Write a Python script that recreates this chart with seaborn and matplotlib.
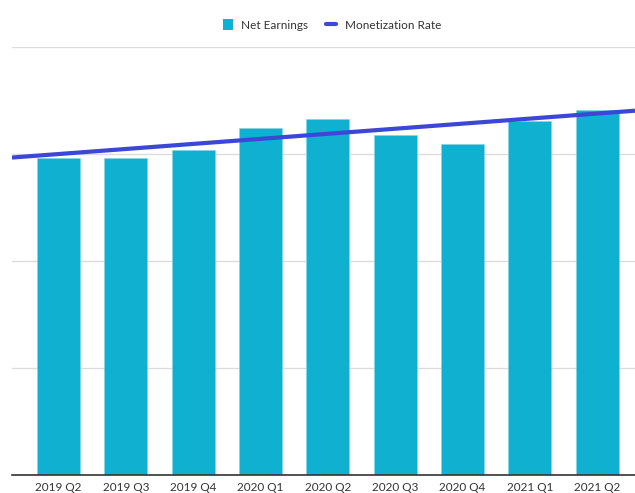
import matplotlib
matplotlib.use("Agg")
import matplotlib.pyplot as plt
from matplotlib.patches import Patch
from matplotlib.lines import Line2D
import numpy as np
import pandas as pd
import seaborn as sns

# Quarterly figures (one grid step = one unit)
quarters = ["2019 Q2", "2019 Q3", "2019 Q4", "2020 Q1", "2020 Q2",
            "2020 Q3", "2020 Q4", "2021 Q1", "2021 Q2"]
net_earnings = [2.96, 2.96, 3.04, 3.24, 3.33, 3.18, 3.09, 3.31, 3.41]
monetization_rate = [3.00, 3.05, 3.09, 3.14, 3.19, 3.24, 3.28, 3.33, 3.38]
y_ticks = [0, 1, 2, 3, 4]

bar_color = "#10B1D0"
line_color = "#3C46D8"
text_color = "#333333"

sns.set_theme(style="white")
plt.rcParams["font.family"] = ["Lato", "DejaVu Sans"]

df = pd.DataFrame({"quarter": quarters,
                   "net": net_earnings,
                   "rate": monetization_rate,
                   "pos": np.arange(len(quarters))})

fig = plt.figure(figsize=(6.35, 4.93), dpi=100)
ax = fig.add_axes([12 / 635, 18 / 493, 623 / 635, 428 / 493])

sns.barplot(data=df, x="quarter", y="net", color=bar_color, width=0.64,
            saturation=1, edgecolor="#7fd6e6", linewidth=0.4, ax=ax, zorder=2)

xlim = (-0.69, 8.56)
ax.set_xlim(*xlim)
# straight trend line spanning the full axis width
sns.regplot(data=df, x="pos", y="rate", scatter=False, ci=None, truncate=False,
            color=line_color, line_kws={"linewidth": 3.0, "solid_capstyle": "butt",
                                        "zorder": 3}, ax=ax)
ax.set_xlim(*xlim)
ax.set_ylim(y_ticks[0], y_ticks[-1])
ax.set_yticks(y_ticks)
ax.set_yticklabels([])
ax.yaxis.grid(True, color="#dcdcdc", linewidth=1.0, zorder=0)
ax.set_axisbelow(True)

ax.set_xlabel("")
ax.set_ylabel("")
ax.set_xticks(range(len(quarters)))
ax.set_xticklabels(quarters, fontsize=8.5, color=text_color)
ax.tick_params(axis="x", length=0, pad=5)
ax.tick_params(axis="y", length=0)

for side in ["top", "right", "left"]:
    ax.spines[side].set_visible(False)
ax.spines["bottom"].set_color("#333333")
ax.spines["bottom"].set_linewidth(1.2)

handles = [Patch(facecolor=bar_color, edgecolor="none", label="Net Earnings"),
           Line2D([0], [0], color=line_color, linewidth=3.0, label="Monetization Rate")]
fig.legend(handles=handles, loc="center", bbox_to_anchor=(332 / 635, 1 - 25 / 493),
           ncol=2, frameon=False, fontsize=8.5, labelcolor=text_color,
           handlelength=0.85, handleheight=0.95, handletextpad=0.75,
           columnspacing=1.5)

fig.savefig("out.png", dpi=100)
